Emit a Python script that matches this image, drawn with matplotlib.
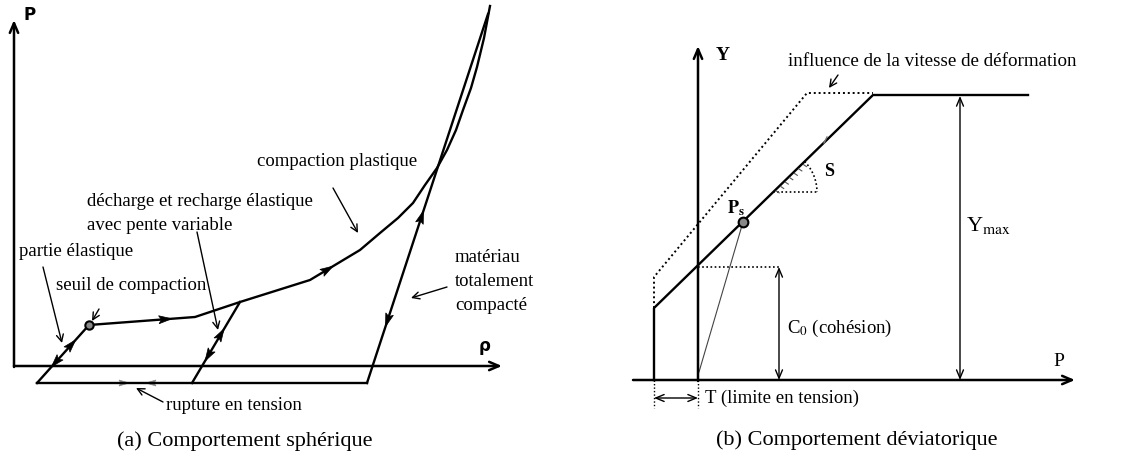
import numpy as np
import matplotlib.pyplot as plt
from matplotlib.patches import Arc, Polygon

plt.rcParams['font.family'] = ['Liberation Serif', 'DejaVu Serif']
plt.rcParams['mathtext.fontset'] = 'stix'

# ---- (a) comportement spherique : key points in picture pixels
rho_axis_y = 366
p_axis_x = 14
tension_y = 383
seuil = (89, 325)
elastic_start = (37, 383)
plastic_x = [89, 195, 240, 310, 360, 380, 398, 413, 425, 437, 447, 456, 463, 471, 477, 484, 490]
plastic_y = [325, 317, 302, 280, 250, 233, 218, 203, 185, 168, 150, 130, 110, 88, 67, 38, 6]
reload_top = (240, 302)
reload_bottom = (192, 383)
compact_bottom = (367, 383)
compact_top = (488, 14)

# ---- (b) comportement deviatorique
y_axis_x = 698
p2_axis_y = 380
tension_x = 654
solid_x = [654, 654, 873, 1028]
solid_y = [380, 308, 95, 95]
dotted_x = [654, 654, 807, 873]
dotted_y = [308, 277, 93, 93]
c0_y = 267
ps = (743, 222)
ymax_x = 960
c0_x = 779
s_corner = (773, 192)

fig = plt.figure(figsize=(11.39, 4.57), dpi=100)
ax = fig.add_axes([0, 0, 1, 1])
ax.set_xlim(0, 1139)
ax.set_ylim(457, 0)
ax.axis('off')

LW = 1.7
FS = 13.5
DOT = (0, (1, 1.5))


def axis_arrow(p0, p1, lw=1.8):
    ax.annotate('', xy=p1, xytext=p0,
                arrowprops=dict(arrowstyle='->,head_length=0.7,head_width=0.3', lw=lw, color='black',
                                shrinkA=0, shrinkB=0))


def pointer(p0, p1):
    ax.annotate('', xy=p1, xytext=p0,
                arrowprops=dict(arrowstyle='->,head_length=0.5,head_width=0.25', lw=1.0, color='black',
                                shrinkA=0, shrinkB=0))


def head(p0, p1, frac, back=False, length=13, width=8, color='black'):
    # filled arrowhead sitting on segment p0->p1 (pixel space)
    p0 = np.array(p0, float)
    p1 = np.array(p1, float)
    c = p0 + frac * (p1 - p0)
    d = (p1 - p0) / np.linalg.norm(p1 - p0)
    if back:
        d = -d
    n = np.array([-d[1], d[0]])
    tip = c + d * length / 2
    b1 = c - d * length / 2 + n * width / 2
    b2 = c - d * length / 2 - n * width / 2
    ax.add_patch(Polygon([tip, b1, c - d * length * 0.3, b2], closed=True,
                         fc=color, ec=color, lw=0.5))


def dbl(p0, p1, lw=1.0):
    ax.annotate('', xy=p1, xytext=p0,
                arrowprops=dict(arrowstyle='<->,head_length=0.6,head_width=0.25', lw=lw, color='black',
                                shrinkA=0, shrinkB=0))


# ---------------- panel (a)
axis_arrow((p_axis_x, rho_axis_y + 1), (p_axis_x, 20))
axis_arrow((p_axis_x, rho_axis_y), (502, rho_axis_y))
ax.text(30, 15, 'P', fontsize=12, fontweight='bold', family='DejaVu Sans', ha='center', va='center')
ax.text(485, 346, 'ρ', fontsize=12, fontweight='bold', family='DejaVu Sans', ha='center', va='center')

ax.plot([elastic_start[0], compact_bottom[0]], [tension_y, tension_y], color='black', lw=LW)
ax.plot([elastic_start[0], seuil[0]], [elastic_start[1], seuil[1]], color='black', lw=LW)
ax.plot(plastic_x, plastic_y, color='black', lw=LW, solid_joinstyle='round')
ax.plot([reload_bottom[0], reload_top[0]], [reload_bottom[1], reload_top[1]], color='black', lw=LW)
ax.plot([compact_bottom[0], compact_top[0]], [compact_bottom[1], compact_top[1]], color='black', lw=LW)
ax.plot(*seuil, 'o', ms=6, mfc='#888888', mec='black', mew=1.5)

# direction arrows
head(elastic_start, seuil, 0.66)
head(elastic_start, seuil, 0.36, back=True)
head((89, 325), (195, 317), 0.72)
head((310, 280), (360, 250), 0.35)
head(reload_bottom, reload_top, 0.6)
head(reload_bottom, reload_top, 0.34, back=True)
head(compact_bottom, compact_top, 0.45)
head(compact_bottom, compact_top, 0.17, back=True)
head((110, tension_y), (130, tension_y), 0.7, length=10, width=6, color='#888888')
head((145, tension_y), (165, tension_y), 0.3, back=True, length=10, width=6, color='#888888')

ax.text(257, 161, 'compaction plastique', fontsize=FS, va='center')
pointer((333, 188), (358, 233))
ax.text(87, 202, 'décharge et recharge élastique', fontsize=FS, va='center')
ax.text(87, 226, 'avec pente variable', fontsize=FS, va='center')
pointer((197, 232), (218, 330))
ax.text(19, 251, 'partie élastique', fontsize=FS, va='center')
pointer((43, 267), (62, 343))
ax.text(56, 285, 'seuil de compaction', fontsize=FS, va='center')
pointer((99, 309), (92, 321))
ax.text(455, 258, 'matériau', fontsize=FS, va='center')
ax.text(455, 282, 'totalement', fontsize=FS, va='center')
ax.text(455, 306, 'compacté', fontsize=FS, va='center')
pointer((447, 287), (411, 298))
ax.text(166, 406, 'rupture en tension', fontsize=FS, va='center')
pointer((163, 402), (136, 388))
ax.text(245, 441, '(a) Comportement sphérique', fontsize=16, ha='center', va='center')

# ---------------- panel (b)
axis_arrow((y_axis_x, p2_axis_y + 1), (y_axis_x, 46))
axis_arrow((633, p2_axis_y), (1075, p2_axis_y))
ax.text(723, 55, 'Y', fontsize=14, fontweight='bold', ha='center', va='center')
ax.text(1059, 362, 'P', fontsize=14, ha='center', va='center')

ax.plot(solid_x, solid_y, color='black', lw=LW)
ax.plot(dotted_x, dotted_y, color='black', lw=1.4, ls=DOT)
ax.plot([y_axis_x, c0_x], [c0_y, c0_y], color='black', lw=1.2, ls=DOT)
ax.plot([y_axis_x + 1, ps[0]], [372, ps[1]], color='#444444', lw=0.8)
ax.plot(*ps, 'o', ms=7, mfc='#888888', mec='black', mew=1.5)
ax.text(736, 208, r'$\mathbf{P_s}$', fontsize=13, ha='center', va='center')

# slope S
ax.plot([s_corner[0], s_corner[0] + 44], [s_corner[1], s_corner[1]], color='black', lw=1.2, ls=DOT)
ax.add_patch(Arc(s_corner, 88, 88, theta1=-44, theta2=0, color='black', lw=1.2, ls=DOT))
for t in np.linspace(0.1, 0.95, 7):
    hx = s_corner[0] + t * 32
    hy = s_corner[1] - t * 31
    ax.plot([hx, hx + 3], [hy + 2, hy + 4], color='#555555', lw=0.8)
ax.text(829, 171, 'S', fontsize=13, fontweight='bold', ha='center', va='center')
ax.plot([827, 824], [137, 143], color='#777777', lw=1)

ax.text(788, 62, 'influence de la vitesse de déformation', fontsize=13.7, va='center')
pointer((838, 75), (829, 88))

dbl((c0_x, c0_y), (c0_x, p2_axis_y))
ax.text(787, 328, r'C$_0$ (cohésion)', fontsize=FS, va='center')
dbl((ymax_x, 96), (ymax_x, p2_axis_y))
ax.text(966, 226, r'Y$_{\rm max}$', fontsize=16, va='center')

ax.plot([tension_x, tension_x], [p2_axis_y, 408], color='black', lw=1.0, ls=DOT)
ax.plot([y_axis_x, y_axis_x], [p2_axis_y, 408], color='black', lw=1.0, ls=DOT)
dbl((tension_x, 398), (y_axis_x, 398))
ax.text(705, 398, 'T (limite en tension)', fontsize=FS, va='center')
ax.text(857, 440, '(b) Comportement déviatorique', fontsize=16, ha='center', va='center')

fig.savefig('out.png', dpi=100, facecolor='white')
